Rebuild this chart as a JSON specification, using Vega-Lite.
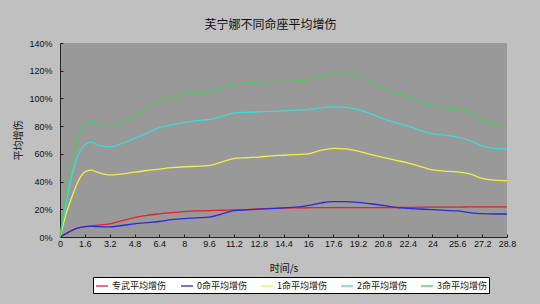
{
  "$schema": "https://vega.github.io/schema/vega-lite/v6.json",
  "width": 447,
  "height": 194,
  "autosize": {"type": "none"},
  "padding": {"left": 60, "top": 43, "right": 33, "bottom": 67},
  "background": "#c0c0c0",
  "config": {
    "view": {"fill": "#999999", "stroke": null},
    "font": "Liberation Sans"
  },
  "title": {
    "text": "芙宁娜不同命座平均增伤",
    "font": "Noto Sans CJK SC",
    "fontSize": 12,
    "fontWeight": "normal",
    "color": "#111111",
    "anchor": "middle",
    "dx": -13,
    "offset": 7
  },
  "data": {
    "values": [
      {"t": 0, "专武平均增伤": 0, "0命平均增伤": 0, "1命平均增伤": 0, "2命平均增伤": 0, "3命平均增伤": 0},
      {"t": 0.4, "专武平均增伤": 0.025, "0命平均增伤": 0.025, "1命平均增伤": 0.17, "2命平均增伤": 0.25, "3命平均增伤": 0.32},
      {"t": 0.8, "专武平均增伤": 0.05, "0命平均增伤": 0.05, "1命平均增伤": 0.30, "2命平均增伤": 0.46, "3命平均增伤": 0.56},
      {"t": 1.2, "专武平均增伤": 0.066, "0命平均增伤": 0.066, "1命平均增伤": 0.41, "2命平均增伤": 0.60, "3命平均增伤": 0.74},
      {"t": 1.6, "专武平均增伤": 0.075, "0命平均增伤": 0.075, "1命平均增伤": 0.47, "2命平均增伤": 0.665, "3命平均增伤": 0.82},
      {"t": 2.0, "专武平均增伤": 0.08, "0命平均增伤": 0.077, "1命平均增伤": 0.483, "2命平均增伤": 0.685, "3命平均增伤": 0.83},
      {"t": 2.4, "专武平均增伤": 0.085, "0命平均增伤": 0.075, "1命平均增伤": 0.468, "2命平均增伤": 0.665, "3命平均增伤": 0.82},
      {"t": 3.2, "专武平均增伤": 0.095, "0命平均增伤": 0.073, "1命平均增伤": 0.448, "2命平均增伤": 0.65, "3命平均增伤": 0.80},
      {"t": 4.0, "专武平均增伤": 0.118, "0命平均增伤": 0.083, "1命平均增伤": 0.455, "2命平均增伤": 0.675, "3命平均增伤": 0.83},
      {"t": 4.8, "专武平均增伤": 0.14, "0命平均增伤": 0.095, "1命平均增伤": 0.468, "2命平均增伤": 0.71, "3命平均增伤": 0.875},
      {"t": 5.6, "专武平均增伤": 0.156, "0命平均增伤": 0.103, "1命平均增伤": 0.48, "2命平均增伤": 0.75, "3命平均增伤": 0.935},
      {"t": 6.4, "专武平均增伤": 0.167, "0命平均增伤": 0.112, "1命平均增伤": 0.49, "2命平均增伤": 0.79, "3命平均增伤": 0.985},
      {"t": 7.2, "专武平均增伤": 0.176, "0命平均增伤": 0.125, "1命平均增伤": 0.50, "2命平均增伤": 0.81, "3命平均增伤": 1.01},
      {"t": 8.0, "专武平均增伤": 0.183, "0命平均增伤": 0.133, "1命平均增伤": 0.507, "2命平均增伤": 0.825, "3命平均增伤": 1.035},
      {"t": 8.8, "专武平均增伤": 0.188, "0命平均增伤": 0.138, "1命平均增伤": 0.51, "2命平均增伤": 0.84, "3命平均增伤": 1.045},
      {"t": 9.6, "专武平均增伤": 0.19, "0命平均增伤": 0.143, "1命平均增伤": 0.515, "2命平均增伤": 0.848, "3命平均增伤": 1.048},
      {"t": 10.4, "专武平均增伤": 0.193, "0命平均增伤": 0.165, "1命平均增伤": 0.54, "2命平均增伤": 0.87, "3命平均增伤": 1.075},
      {"t": 11.2, "专武平均增伤": 0.195, "0命平均增伤": 0.19, "1命平均增伤": 0.565, "2命平均增伤": 0.895, "3命平均增伤": 1.105},
      {"t": 12.0, "专武平均增伤": 0.198, "0命平均增伤": 0.196, "1命平均增伤": 0.572, "2命平均增伤": 0.9, "3命平均增伤": 1.112},
      {"t": 12.8, "专武平均增伤": 0.203, "0命平均增伤": 0.201, "1命平均增伤": 0.577, "2命平均增伤": 0.903, "3命平均增伤": 1.117},
      {"t": 13.6, "专武平均增伤": 0.207, "0命平均增伤": 0.205, "1命平均增伤": 0.585, "2命平均增伤": 0.906, "3命平均增伤": 1.12},
      {"t": 14.4, "专武平均增伤": 0.209, "0命平均增伤": 0.21, "1命平均增伤": 0.59, "2命平均增伤": 0.91, "3命平均增伤": 1.123},
      {"t": 15.2, "专武平均增伤": 0.21, "0命平均增伤": 0.215, "1命平均增伤": 0.595, "2命平均增伤": 0.915, "3命平均增伤": 1.127},
      {"t": 16.0, "专武平均增伤": 0.211, "0命平均增伤": 0.228, "1命平均增伤": 0.6, "2命平均增伤": 0.92, "3命平均增伤": 1.135},
      {"t": 16.8, "专武平均增伤": 0.212, "0命平均增伤": 0.245, "1命平均增伤": 0.625, "2命平均增伤": 0.932, "3命平均增伤": 1.16},
      {"t": 17.6, "专武平均增伤": 0.212, "0命平均增伤": 0.255, "1命平均增伤": 0.64, "2命平均增伤": 0.94, "3命平均增伤": 1.18},
      {"t": 18.4, "专武平均增伤": 0.212, "0命平均增伤": 0.255, "1命平均增伤": 0.636, "2命平均增伤": 0.935, "3命平均增伤": 1.18},
      {"t": 19.2, "专武平均增伤": 0.212, "0命平均增伤": 0.25, "1命平均增伤": 0.62, "2命平均增伤": 0.92, "3命平均增伤": 1.16},
      {"t": 20.0, "专武平均增伤": 0.212, "0命平均增伤": 0.24, "1命平均增伤": 0.597, "2命平均增伤": 0.89, "3命平均增伤": 1.12},
      {"t": 20.8, "专武平均增伤": 0.213, "0命平均增伤": 0.228, "1命平均增伤": 0.575, "2命平均增伤": 0.855, "3命平均增伤": 1.075},
      {"t": 21.6, "专武平均增伤": 0.213, "0命平均增伤": 0.214, "1命平均增伤": 0.555, "2命平均增伤": 0.825, "3命平均增伤": 1.04},
      {"t": 22.4, "专武平均增伤": 0.214, "0命平均增伤": 0.207, "1命平均增伤": 0.535, "2命平均增伤": 0.80, "3命平均增伤": 1.01},
      {"t": 23.2, "专武平均增伤": 0.215, "0命平均增伤": 0.202, "1命平均增伤": 0.51, "2命平均增伤": 0.77, "3命平均增伤": 0.975},
      {"t": 24.0, "专武平均增伤": 0.215, "0命平均增伤": 0.197, "1命平均增伤": 0.485, "2命平均增伤": 0.745, "3命平均增伤": 0.948},
      {"t": 24.8, "专武平均增伤": 0.216, "0命平均增伤": 0.192, "1命平均增伤": 0.476, "2命平均增伤": 0.735, "3命平均增伤": 0.932},
      {"t": 25.6, "专武平均增伤": 0.216, "0命平均增伤": 0.188, "1命平均增伤": 0.47, "2命平均增伤": 0.72, "3命平均增伤": 0.925},
      {"t": 26.4, "专武平均增伤": 0.217, "0命平均增伤": 0.176, "1命平均增伤": 0.455, "2命平均增伤": 0.695, "3命平均增伤": 0.9},
      {"t": 27.2, "专武平均增伤": 0.217, "0命平均增伤": 0.168, "1命平均增伤": 0.423, "2命平均增伤": 0.658, "3命平均增伤": 0.845},
      {"t": 28.0, "专武平均增伤": 0.217, "0命平均增伤": 0.166, "1命平均增伤": 0.41, "2命平均增伤": 0.64, "3命平均增伤": 0.812},
      {"t": 28.8, "专武平均增伤": 0.218, "0命平均增伤": 0.166, "1命平均增伤": 0.406, "2命平均增伤": 0.635, "3命平均增伤": 0.80}
    ]
  },
  "transform": [
    {"fold": ["专武平均增伤", "0命平均增伤", "1命平均增伤", "2命平均增伤", "3命平均增伤"], "as": ["series", "value"]}
  ],
  "mark": {"type": "line", "interpolate": "monotone"},
  "encoding": {
    "x": {
      "field": "t",
      "type": "quantitative",
      "scale": {"domain": [0, 28.8], "nice": false, "zero": false},
      "axis": {
        "title": "时间/s",
        "titleFont": "Noto Sans CJK SC",
        "titleFontSize": 10,
        "titleFontWeight": "normal",
        "titleColor": "#111111",
        "titlePadding": 15,
        "values": [0, 1.6, 3.2, 4.8, 6.4, 8, 9.6, 11.2, 12.8, 14.4, 16, 17.6, 19.2, 20.8, 22.4, 24, 25.6, 27.2, 28.8],
        "format": ".3~g",
        "labelFontSize": 9,
        "labelColor": "#111111",
        "labelPadding": 5,
        "labelFlush": false,
        "labelOverlap": false,
        "grid": false,
        "domainColor": "#222222",
        "tickColor": "#222222",
        "tickSize": -3
      }
    },
    "y": {
      "field": "value",
      "type": "quantitative",
      "scale": {"domain": [0, 1.4], "nice": false},
      "axis": {
        "title": "平均增伤",
        "titleFont": "Noto Sans CJK SC",
        "titleFontSize": 10,
        "titleFontWeight": "normal",
        "titleColor": "#111111",
        "titlePadding": 5,
        "values": [0, 0.2, 0.4, 0.6, 0.8, 1.0, 1.2, 1.4],
        "format": ".0%",
        "labelFontSize": 9,
        "labelColor": "#111111",
        "labelPadding": 11,
        "labelFlush": false,
        "grid": false,
        "domainColor": "#222222",
        "tickColor": "#222222",
        "tickSize": -3
      }
    },
    "color": {
      "field": "series",
      "type": "nominal",
      "scale": {
        "domain": ["专武平均增伤", "0命平均增伤", "1命平均增伤", "2命平均增伤", "3命平均增伤"],
        "range": ["#e8202a", "#2a2ad8", "#f0f040", "#40d8d8", "#50c860"]
      },
      "legend": {
        "title": null,
        "orient": "none",
        "legendX": 33,
        "legendY": 234,
        "direction": "horizontal",
        "symbolType": "stroke",
        "symbolSize": 144,
        "symbolStrokeWidth": 1.2,
        "labelFont": "Noto Sans CJK SC",
        "labelFontSize": 9,
        "labelColor": "#111111",
        "labelOffset": 3,
        "columnPadding": 11,
        "padding": 2,
        "fillColor": "#ffffff",
        "strokeColor": "#000000"
      }
    },
    "strokeWidth": {
      "field": "series",
      "type": "nominal",
      "scale": {
        "domain": ["专武平均增伤", "0命平均增伤", "1命平均增伤", "2命平均增伤", "3命平均增伤"],
        "range": [1.3, 1.3, 1.6, 2.6, 2.8]
      },
      "legend": null
    }
  }
}
